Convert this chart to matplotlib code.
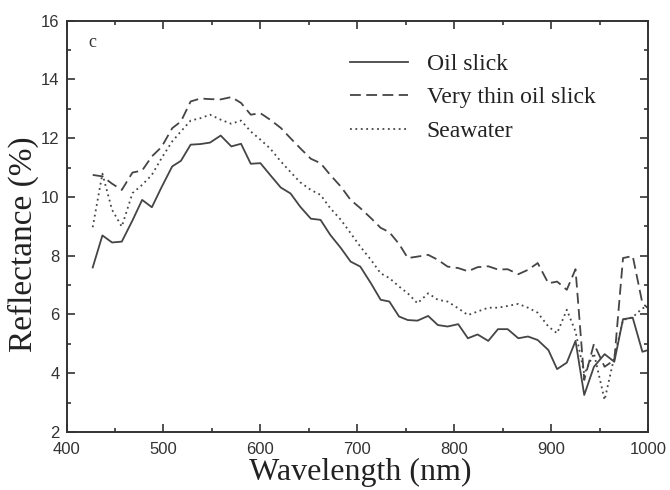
import matplotlib
matplotlib.use("Agg")
import matplotlib.pyplot as plt
from matplotlib.ticker import MultipleLocator

# wavelengths (nm)
wavelength = [427, 437, 447, 457, 468, 478, 488, 498, 509, 518,
              528, 538, 548, 559, 570, 580, 590, 600, 610, 621,
              631, 641, 652, 662, 672, 683, 693, 703, 714, 724,
              733, 743, 752, 762, 773, 783, 793, 804, 814, 824,
              835, 845, 855, 866, 876, 886, 897, 906, 916, 925,
              934, 944, 955, 965, 974, 984, 994, 1000]

oil_slick = [7.60, 8.69, 8.45, 8.48, 9.20, 9.90, 9.65, 10.33, 11.04, 11.23,
             11.78, 11.80, 11.85, 12.09, 11.72, 11.81, 11.13, 11.15, 10.75, 10.32,
             10.12, 9.67, 9.26, 9.22, 8.71, 8.26, 7.80, 7.63, 7.06, 6.50,
             6.44, 5.93, 5.81, 5.79, 5.95, 5.64, 5.59, 5.67, 5.19, 5.32,
             5.10, 5.50, 5.50, 5.19, 5.25, 5.13, 4.79, 4.14, 4.36, 5.10,
             3.26, 4.22, 4.65, 4.39, 5.84, 5.89, 4.73, 4.79]

thin_oil = [10.75, 10.70, 10.45, 10.24, 10.83, 10.90, 11.38, 11.70, 12.34, 12.57,
            13.25, 13.35, 13.33, 13.32, 13.40, 13.20, 12.80, 12.85, 12.63, 12.35,
            12.00, 11.66, 11.30, 11.15, 10.75, 10.35, 9.90, 9.62, 9.28, 8.95,
            8.80, 8.40, 7.92, 7.97, 8.03, 7.86, 7.63, 7.58, 7.47, 7.61,
            7.64, 7.53, 7.54, 7.37, 7.52, 7.75, 7.06, 7.12, 6.84, 7.54,
            3.77, 5.00, 4.22, 4.45, 7.92, 7.99, 6.38, 6.21]

seawater = [8.97, 10.79, 9.56, 8.99, 10.13, 10.41, 10.75, 11.32, 11.89, 12.23,
            12.60, 12.68, 12.80, 12.63, 12.49, 12.60, 12.23, 11.95, 11.65, 11.21,
            10.85, 10.50, 10.24, 10.07, 9.62, 9.22, 8.77, 8.31, 7.86, 7.40,
            7.24, 6.95, 6.72, 6.38, 6.72, 6.50, 6.44, 6.21, 5.98, 6.10,
            6.23, 6.23, 6.29, 6.36, 6.23, 6.06, 5.59, 5.36, 6.16, 5.42,
            3.98, 4.68, 3.09, 4.56, 5.81, 5.91, 6.21, 6.27]

line_col = '#454545'

fig = plt.figure(figsize=(6.7, 4.9), dpi=100)
ax = fig.add_axes([0.0993, 0.1184, 0.8682, 0.8394])

ax.plot(wavelength, oil_slick, color=line_col, lw=1.3, ls='-', label='Oil slick')
ax.plot(wavelength, thin_oil, color=line_col, lw=1.3, ls=(0, (6, 3)), label='Very thin oil slick')
ax.plot(wavelength, seawater, color=line_col, lw=1.3, ls=(0, (1, 2)), label='Seawater')

ax.set_xlim(400, 1000)
ax.set_ylim(2, 16)
ax.xaxis.set_major_locator(MultipleLocator(100))
ax.xaxis.set_minor_locator(MultipleLocator(50))
ax.yaxis.set_major_locator(MultipleLocator(2))
ax.yaxis.set_minor_locator(MultipleLocator(1))

for s in ax.spines.values():
    s.set_linewidth(1.4)
    s.set_color('#333333')

ax.tick_params(which='both', direction='in', top=True, right=True, color='#333333', width=1.2)
ax.tick_params(which='major', length=6)
ax.tick_params(which='minor', length=3)
ax.tick_params(axis='x', which='major', pad=7)
ax.tick_params(axis='y', which='major', pad=5)
for lab in ax.get_xticklabels() + ax.get_yticklabels():
    lab.set_fontfamily('Liberation Sans')
    lab.set_fontsize(12)
    lab.set_color('#333333')

ax.set_xlabel('Wavelength (nm)', fontfamily='Liberation Serif', fontsize=23, color='#222222')
ax.set_ylabel('Reflectance (%)', fontfamily='Liberation Serif', fontsize=24, color='#222222')
ax.xaxis.set_label_coords(0.505, -0.062)
ax.yaxis.set_label_coords(-0.047, 0.457)

ax.text(0.044, 0.946, 'c', transform=ax.transAxes, fontfamily='Liberation Serif',
        fontsize=13, color='#333333', ha='center', va='center')

leg = ax.legend(loc='upper left', bbox_to_anchor=(0.4875, 0.92), frameon=False,
                borderaxespad=0, borderpad=0, handlelength=2.45, handletextpad=0.8,
                labelspacing=0.5, prop={'family': 'Liberation Serif', 'size': 17})
for t in leg.get_texts():
    t.set_color('#222222')

fig.savefig('out.png', dpi=100)
